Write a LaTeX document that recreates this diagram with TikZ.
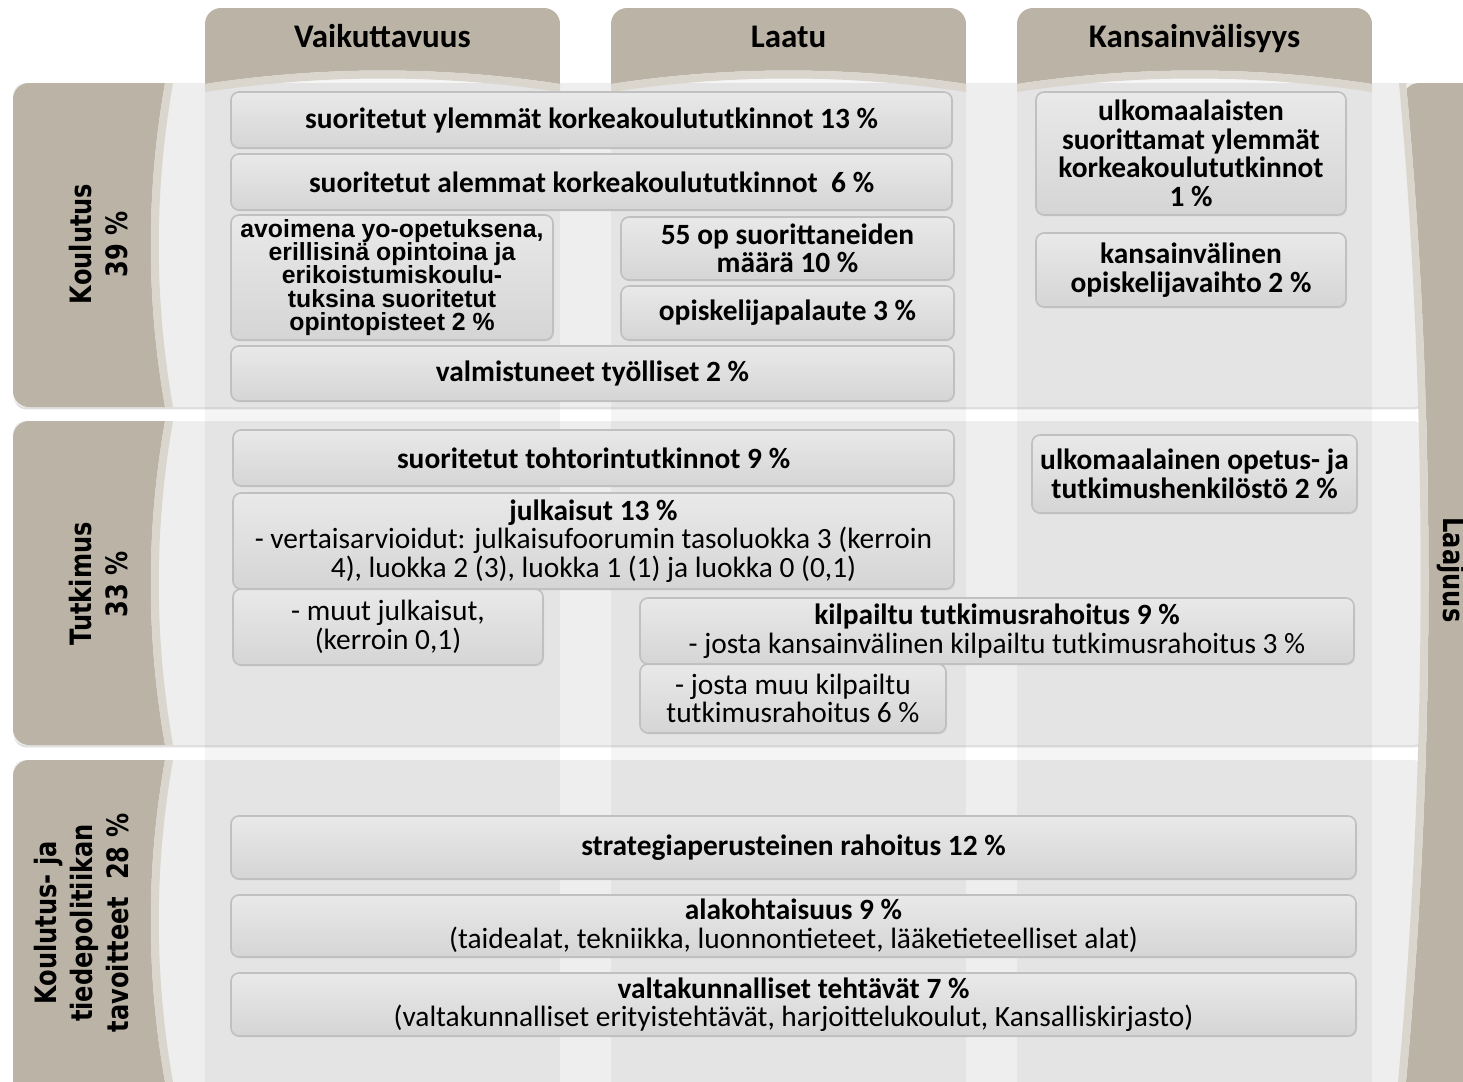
\documentclass[tikz,border=0pt]{standalone}
\usepackage{fontspec}
\setmainfont{Carlito}
\newfontfamily\tabfont[FakeStretch=0.82]{DejaVu Sans}
\newfontfamily\arialfont{Liberation Sans}
\usepackage{xcolor}
\usepackage{tikz}
\usetikzlibrary{shadows}
\definecolor{taupe}{RGB}{187,180,166}
\definecolor{taupelight}{RGB}{218,214,206}
\definecolor{bandgray}{RGB}{238,238,238}
\definecolor{boxtop}{RGB}{233,233,233}
\definecolor{boxbottom}{RGB}{213,213,213}
\definecolor{boxline}{RGB}{192,192,192}
\tikzset{
  mbox/.style={draw=boxline, line width=0.8pt, rounded corners=4pt, top color=boxtop, bottom color=boxbottom,
    inner sep=0pt, align=center, font=\fontsize{14.7}{14.3}\selectfont,
    drop shadow={opacity=0.12, shadow xshift=0.5pt, shadow yshift=-0.7pt}},
  rowlabel/.style={rotate=90, align=center, font=\tabfont\bfseries\fontsize{14.7}{18}\selectfont},
  colhead/.style={anchor=base, font=\bfseries\fontsize{16.5}{18}\selectfont},
}

\begin{document}
\begin{tikzpicture}[x=0.5pt,y=-0.5pt]
			\useasboundingbox (0,0) rectangle (1463,1082);
			\fill[white] (0,0) rectangle (1463,1082);
			\foreach \ta/\tb in {83/407, 421/745, 760/1110}
				\fill[bandgray, rounded corners=6pt, drop shadow={opacity=0.25, shadow xshift=0.5pt, shadow yshift=-1.2pt}] (13,\ta) rectangle (1425,\tb);
			\foreach \xa/\xb in {205/560, 611/966, 1017/1372}
				\fill[black, opacity=0.04] (\xa,70) rectangle (\xb,1082);
			\foreach \ta/\tb/\tc in {83/407/407, 421/745/745, 760/1082/1110} {
				\begin{scope}
					\clip (0,\ta) -- (165,\ta) .. controls (146,{\ta+(\tb-\ta)/3}) and (146,{\ta+2*(\tb-\ta)/3}) .. (165,\tb) -- (0,\tb) -- cycle;
					\fill[taupe, rounded corners=8pt] (13,\ta) rectangle (190,\tc);
				\end{scope}
				\fill[taupelight] (165,\ta) .. controls (146,{\ta+(\tb-\ta)/3}) and (146,{\ta+2*(\tb-\ta)/3}) .. (165,\tb)
					-- (173,\tb) .. controls (154,{\ta+2*(\tb-\ta)/3}) and (154,{\ta+(\tb-\ta)/3}) .. (173,\ta) -- cycle;
			}
			\foreach \xa/\xb in {205/560, 611/966, 1017/1372} {
				\begin{scope}
					\clip (\xa,0) -- (\xb,0) -- (\xb,84) .. controls ({\xb-(\xb-\xa)/3},66) and ({\xa+(\xb-\xa)/3},66) .. (\xa,84) -- cycle;
					\fill[taupe, rounded corners=8pt] (\xa,8) rectangle (\xb,110);
				\end{scope}
				\fill[taupelight] (\xa,84) .. controls ({\xa+(\xb-\xa)/3},66) and ({\xb-(\xb-\xa)/3},66) .. (\xb,84)
					-- (\xb,92) .. controls ({\xb-(\xb-\xa)/3},74) and ({\xa+(\xb-\xa)/3},74) .. (\xa,92) -- cycle;
			}
			\begin{scope}
				\clip (1406,83) .. controls (1436,400) and (1436,760) .. (1406,1082) -- (1463,1082) -- (1463,83) -- cycle;
				\fill[taupe, rounded corners=8pt] (1403,83) rectangle (1490,1110);
			\end{scope}
			\fill[taupelight] (1406,83) .. controls (1436,400) and (1436,760) .. (1406,1082)
				-- (1398,1082) .. controls (1428,760) and (1428,400) .. (1399,83) -- cycle;

			\node[colhead] (vaik) at (382.5,47) {Vaikuttavuus};
			\node[colhead] (laatu) at (788.5,47) {Laatu};
			\node[colhead] (kans) at (1194.5,47) {Kansainvälisyys};
			\node[rowlabel] (koul) at (99,244) {Koulutus\\39~\%};
			\node[rowlabel] (tutk) at (99,584) {Tutkimus\\33~\%};
			\node[rowlabel] (tavo) at (82,923) {Koulutus- ja\\tiedepolitiikan\\tavoitteet\ \ 28~\%};
			\node[font=\tabfont\bfseries\fontsize{14.7}{18}\selectfont, rotate=-90] (laaj) at (1451,570) {Laajuus};

			\node[mbox, minimum width=360.5pt, minimum height=28pt] (ylem) at (591.5,120) {\textbf{suoritetut ylemmät korkeakoulututkinnot 13~\%}};
			\node[mbox, minimum width=360.5pt, minimum height=28pt] (alem) at (591.5,182) {\textbf{suoritetut alemmat korkeakoulututkinnot\ \ 6~\%}};
			\node[mbox, minimum width=161pt, minimum height=62.5pt, font=\arialfont\bfseries\fontsize{12.4}{11.6}\selectfont] (avoin) at (392,277.5) {avoimena yo-opetuksena,\\erillisinä opintoina ja\\erikoistumiskoulu-\\tuksina suoritetut\\opintopisteet 2~\%};
			\node[mbox, minimum width=166.5pt, minimum height=31.5pt] (op55) at (787.5,248.5) {\textbf{55 op suorittaneiden}\\\textbf{määrä 10~\%}};
			\node[mbox, minimum width=166.5pt, minimum height=27pt] (palaute) at (787.5,313) {\textbf{opiskelijapalaute 3~\%}};
			\node[mbox, minimum width=361.5pt, minimum height=27.5pt] (tyoll) at (592.5,373.5) {\textbf{valmistuneet työlliset 2~\%}};
			\node[mbox, minimum width=155pt, minimum height=61.5pt] (ulkotut) at (1191,153.5) {\textbf{ulkomaalaisten}\\\textbf{suorittamat ylemmät}\\\textbf{korkeakoulututkinnot}\\\textbf{1~\%}};
			\node[mbox, minimum width=155pt, minimum height=37pt] (vaihto) at (1191,270) {\textbf{kansainvälinen}\\\textbf{opiskelijavaihto 2~\%}};

			\node[mbox, minimum width=360.5pt, minimum height=28pt] (tohtori) at (593.5,458) {\textbf{suoritetut tohtorintutkinnot 9~\%}};
			\node[mbox, minimum width=155pt, minimum height=38pt] (muut) at (388,627) {- muut julkaisut,\\(kerroin 0,1)};
			\node[mbox, minimum width=360.5pt, minimum height=48pt] (julk) at (593.5,541) {\textbf{julkaisut 13~\%}\\- vertaisarvioidut: julkaisufoorumin tasoluokka 3 (kerroin\\4), luokka 2 (3), luokka 1 (1) ja luokka 0 (0,1)};
			\node[mbox, minimum width=162.5pt, minimum height=39pt] (henk) at (1194.5,474) {\textbf{ulkomaalainen opetus- ja}\\\textbf{tutkimushenkilöstö 2~\%}};
			\node[mbox, minimum width=153pt, minimum height=34.5pt] (muura) at (793,698.5) {- josta muu kilpailtu\\tutkimusrahoitus 6~\%};
			\node[mbox, minimum width=357pt, minimum height=33pt] (kilp) at (997,631) {\textbf{kilpailtu tutkimusrahoitus 9~\%}\\- josta kansainvälinen kilpailtu tutkimusrahoitus 3~\%};

			\node[mbox, minimum width=562.5pt, minimum height=31.5pt] (strat) at (793.5,847.5) {\textbf{strategiaperusteinen rahoitus 12~\%}};
			\node[mbox, minimum width=562.5pt, minimum height=31pt] (ala) at (793.5,926) {\textbf{alakohtaisuus 9~\%}\\(taidealat, tekniikka, luonnontieteet, lääketieteelliset alat)};
			\node[mbox, minimum width=562.5pt, minimum height=31.5pt] (valta) at (793.5,1004.5) {\textbf{valtakunnalliset tehtävät 7~\%}\\(valtakunnalliset erityistehtävät, harjoittelukoulut, Kansalliskirjasto)};
		\end{tikzpicture}
\end{document}
